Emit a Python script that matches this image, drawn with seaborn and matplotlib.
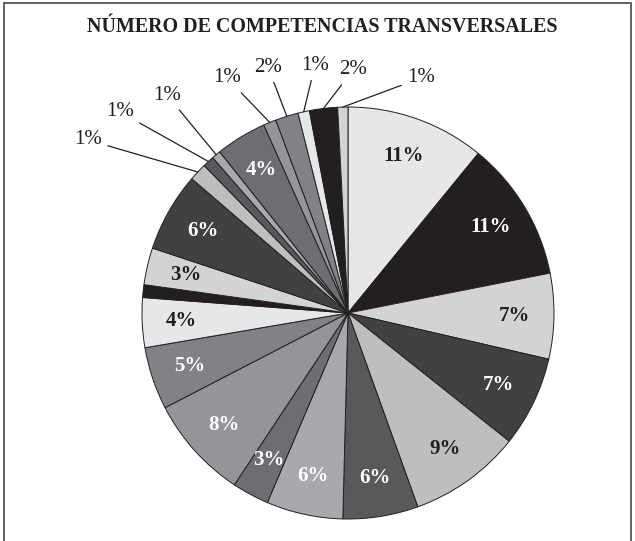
import numpy as np
import seaborn as sns
import matplotlib.pyplot as plt
from matplotlib.patches import Rectangle

sns.set_theme(style="white")
plt.rcParams['font.family'] = ['Liberation Serif', 'DejaVu Serif']

title = "NÚMERO DE COMPETENCIAS TRANSVERSALES"

# slice shares (%), clockwise from 12 o'clock
values = [10.9, 11.0, 6.7, 7.1, 8.8, 5.9, 6.0, 2.9, 8.1, 4.9, 3.9, 1.0,
          2.9, 6.2, 1.4, 0.9, 0.7, 4.0, 1.0, 1.8, 0.9, 2.2, 0.8]
labels = ["11%", "11%", "7%", "7%", "9%", "6%", "6%", "3%", "8%", "5%", "4%", "",
          "3%", "6%", "1%", "1%", "1%", "4%", "1%", "2%", "1%", "2%", "1%"]
# slices whose label sits outside with a leader line
outside = [14, 15, 16, 18, 19, 20, 21, 22]
outside_pos = [(88, 140), (120, 112), (167, 95), (227, 78), (268, 67),
               (315, 65), (353, 70), (421, 78)]

grays = ["#e6e7e8", "#231f20", "#d1d3d4", "#414042", "#bcbec0",
         "#58595b", "#a7a9ac", "#6d6e71", "#939598", "#808285"]
palette = sns.color_palette(grays)
colors = [palette[i % 10] for i in range(len(values))]
light = {"#e6e7e8", "#d1d3d4", "#bcbec0"}

W, H = 635, 541
fig = plt.figure(figsize=(W / 100, H / 100), dpi=100)
fig.patches.append(Rectangle((0.007, -0.01), 0.986, 1.005, transform=fig.transFigure,
                             fill=False, edgecolor="#555555", linewidth=1.3))
fig.text(322 / W, 1 - 27 / H, title, ha="center", va="center",
         fontsize=14.4, fontweight="bold", color="#231f20")

ax = fig.add_axes([142 / W, 22 / H, 412 / W, 412 / H])
wedges, _ = ax.pie(values, colors=colors, startangle=90, counterclock=False,
                   radius=1, wedgeprops=dict(edgecolor="#231f20", linewidth=0.7))
ax.set_xlim(-1, 1)
ax.set_ylim(-1, 1)
ax.set_aspect("equal")
ax.axis("off")

for i, w in enumerate(wedges):
    ang = np.deg2rad((w.theta1 + w.theta2) / 2)
    if i in outside or not labels[i]:
        continue
    c = "#231f20" if grays[i % 10] in light else "white"
    ax.text(0.81 * np.cos(ang), 0.81 * np.sin(ang), labels[i], ha="center",
            va="center", fontsize=15, fontweight="bold", color=c)

for i, (px, py) in zip(outside, outside_pos):
    w = wedges[i]
    ang = np.deg2rad((w.theta1 + w.theta2) / 2)
    ax.annotate(labels[i], xy=(np.cos(ang), np.sin(ang)), xytext=(px, H - py),
                textcoords="figure pixels", ha="center", va="center",
                fontsize=15, color="#231f20",
                arrowprops=dict(arrowstyle="-", color="#231f20", linewidth=0.9,
                                shrinkA=2, shrinkB=0))

fig.savefig("out.png", dpi=100)
